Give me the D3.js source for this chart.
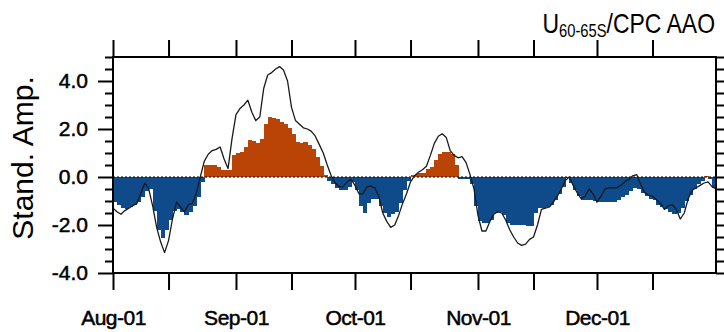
<!DOCTYPE html>
<html>
<head>
<meta charset="utf-8">
<script src="https://cdn.jsdelivr.net/npm/d3@7"></script>
<style>
  body { margin: 0; background: #fff; }
  svg { display: block; font-family: "Liberation Sans", Arial, Helvetica, sans-serif; }
</style>
</head>
<body>
<div class="chart"></div>
<script>
// size of the page
let svg_width = 724;
let svg_height = 332;

// plot frame
let left = 113, right = 716, top_y = 57, bottom = 273;

// daily values, starting on Aug-01
let start_day = new Date(Date.UTC(2000, 7, 1));
let end_day = new Date(Date.UTC(2000, 11, 31));

// shaded bars (CPC AAO)
let aao_values = [
  -1.05, -1.15, -1.3, -1.35, -1.25, -1.15, -1.05, -0.85, -0.6, -0.5,
  -1.4, -2.2, -2.55, -2.2, -1.8, -1.4, -1.35, -1.45, -1.6, -1.45,
  -1.2, -0.85, -0.2, 0.5, 0.5, 0.5, 0.4, 0.3, 0.3, 0.3,
  0.9, 1.0, 1.05, 1.25, 1.55, 1.5, 1.4, 1.6, 2.2, 2.5,
  2.45, 2.4, 2.3, 2.2, 2.05, 1.8, 1.45, 1.4, 1.45, 1.35,
  1.15, 0.85, 0.45, 0.1, -0.15, -0.3, -0.45, -0.55, -0.55, -0.4,
  -0.2, -0.55, -1.2, -1.5, -1.1, -0.9, -0.9, -1.2, -1.5, -1.65,
  -1.55, -1.45, -1.1, -0.55, -0.15, 0.1, 0.12, 0.18, 0.15, 0.35,
  0.4, 0.7, 0.95, 1.05, 1.05, 0.95, 0.5, -0.1, -0.1, -0.1,
  -0.3, -1.2, -1.85, -1.9, -1.9, -1.8, -1.5, -1.45, -1.6, -1.9,
  -2.0, -2.0, -2.0, -2.0, -2.05, -2.05, -1.5, -1.3, -1.3, -1.25,
  -1.15, -0.95, -0.7, -0.4, -0.05, -0.25, -0.55, -0.8, -0.95, -0.95,
  -0.95, -1.0, -1.05, -1.05, -1.05, -1.05, -1.05, -0.95, -0.85, -0.75,
  -0.6, -0.45, -0.5, -0.65, -0.8, -0.9, -0.95, -1.15, -1.25, -1.35,
  -1.45, -1.55, -1.5, -1.3, -1.0, -0.75, -0.5, -0.3, -0.15, 0.05,
  -0.1, -0.45
];

// black curve (U 60-65S)
let u_values = [
  -1.3, -1.45, -1.55, -1.4, -1.3, -1.2, -1.1, -0.7, -0.25, -0.5,
  -1.2, -2.1, -2.7, -3.15, -2.65, -1.75, -1.05, -1.25, -1.45, -1.15,
  -1.1, -0.7, 0.0, 0.65, 0.95, 1.1, 1.15, 1.25, 0.75, 0.35,
  1.6, 2.6, 2.85, 3.0, 3.2, 2.7, 2.35, 2.5, 3.7, 4.25,
  4.35, 4.5, 4.6, 4.45, 4.0, 2.9, 2.35, 2.2, 2.05, 2.0,
  1.9, 1.7, 1.35, 1.0, 0.5, 0.05, -0.25, -0.4, -0.4, -0.2,
  -0.1, -0.35, -0.7, -0.7, -0.4, -0.38, -0.45, -0.8, -1.5, -1.85,
  -2.1, -2.0, -1.6, -1.1, -0.7, -0.2, 0.05, 0.2, 0.3, 0.45,
  0.9, 1.4, 1.7, 1.8, 1.65, 1.1, 0.9, 0.8, 0.85, 0.6,
  0.1, -0.5, -1.6, -2.25, -2.25, -1.85, -1.55, -1.45, -1.5, -1.8,
  -2.2, -2.5, -2.75, -2.85, -2.8, -2.6, -2.5, -2.0, -1.35, -1.3,
  -1.25, -1.05, -0.8, -0.5, -0.15, 0.0, -0.35, -0.65, -0.9, -0.8,
  -0.5, -0.7, -1.05, -0.8, -0.5, -0.45, -0.45, -0.45, -0.35, -0.2,
  -0.1, 0.05, 0.1, -0.3, -0.65, -0.75, -0.8, -0.95, -1.1, -1.35,
  -1.2, -1.15, -1.35, -1.75, -1.5, -0.9, -0.55, -0.45, -0.35, -0.25,
  -0.2, -0.4, -0.5
];

// axis ticks
let y_major = [-4, -2, 0, 2, 4];
let y_minor = d3.range(-4, 5.01, 0.5).filter(v => y_major.indexOf(v) < 0);
let x_labelled = [
  Date.UTC(2000, 7, 1), Date.UTC(2000, 8, 1), Date.UTC(2000, 9, 1),
  Date.UTC(2000, 10, 1), Date.UTC(2000, 11, 1)
].map(t => new Date(t));
let x_mid = [
  Date.UTC(2000, 7, 15), Date.UTC(2000, 8, 15), Date.UTC(2000, 9, 15),
  Date.UTC(2000, 10, 15), Date.UTC(2000, 11, 15)
].map(t => new Date(t));

let title_main = "U";
let title_sub = "60-65S";
let title_rest = "/CPC AAO";
let y_title = "Stand. Amp.";

let pos_color = "#BA4306";
let neg_color = "#0F4A8A";

// scales
let x_scale = d3.scaleUtc()
                .domain([start_day, end_day])
                .range([left, right]);

let y_scale = d3.scaleLinear()
                .domain([-4, 5])
                .range([bottom, top_y]);

function dayAt(i) {
    return d3.utcDay.offset(start_day, i);
}

let svg = d3.select('.chart')
            .append('svg')
            .attr('width', svg_width)
            .attr('height', svg_height);

svg.append('clipPath')
   .attr('id', 'plot-clip')
   .append('rect')
   .attr('x', left).attr('y', top_y)
   .attr('width', right - left).attr('height', bottom - top_y);

let plot = svg.append('g').attr('clip-path', 'url(#plot-clip)');

// bars
plot.selectAll('rect.bar')
    .data(aao_values)
    .enter()
    .append('rect')
    .attr('class', 'bar')
    .attr('x', (d, i) => x_scale(dayAt(i)))
    .attr('width', (d, i) => x_scale(dayAt(i + 1)) - x_scale(dayAt(i)) + 0.6)
    .attr('y', d => Math.min(y_scale(d), y_scale(0)))
    .attr('height', d => Math.abs(y_scale(d) - y_scale(0)))
    .attr('shape-rendering', 'crispEdges')
    .attr('fill', d => d >= 0 ? pos_color : neg_color);

// zero reference line
plot.append('line')
    .attr('x1', left).attr('x2', right)
    .attr('y1', y_scale(0)).attr('y2', y_scale(0))
    .attr('stroke', '#000')
    .attr('stroke-width', 1)
    .attr('stroke-dasharray', '2,2');

// curve
let line = d3.line()
             .x((d, i) => x_scale(dayAt(i)))
             .y(d => y_scale(d));

plot.append('path')
    .datum(u_values)
    .attr('d', line)
    .attr('fill', 'none')
    .attr('stroke', '#1a1a1a')
    .attr('stroke-width', 1.3)
    .attr('stroke-linejoin', 'round');

// axes
function styleAxis(g) {
    g.select('.domain').remove();
    g.selectAll('.tick line').attr('stroke', '#000').attr('stroke-width', 2);
    g.selectAll('.tick text')
     .attr('fill', '#000')
     .attr('stroke', '#000')
     .attr('stroke-width', 0.5)
     .style('font-family', '"Liberation Sans", Arial, sans-serif')
     .style('font-size', '21px');
}

let fmt_month = d3.utcFormat('%b-%d');

svg.append('g')
   .attr('transform', `translate(0,${bottom})`)
   .call(d3.axisBottom(x_scale)
           .tickValues(x_labelled.concat(x_mid))
           .tickSize(17)
           .tickPadding(20)
           .tickFormat(d => d.getUTCDate() == 1 ? fmt_month(d) : ''))
   .call(styleAxis)
   .selectAll('.tick text')
   .style('letter-spacing', '-0.5px');

svg.append('g')
   .attr('transform', `translate(0,${top_y})`)
   .call(d3.axisTop(x_scale)
           .tickValues(x_labelled.concat(x_mid))
           .tickSize(17)
           .tickFormat(''))
   .call(styleAxis);

svg.append('g')
   .attr('transform', `translate(${left},0)`)
   .call(d3.axisLeft(y_scale)
           .tickValues(y_major)
           .tickSize(15)
           .tickPadding(10)
           .tickFormat(d => d.toFixed(1)))
   .call(styleAxis);

svg.append('g')
   .attr('transform', `translate(${left},0)`)
   .call(d3.axisLeft(y_scale).tickValues(y_minor).tickSize(8).tickFormat(''))
   .call(styleAxis);

svg.append('g')
   .attr('transform', `translate(${right},0)`)
   .call(d3.axisRight(y_scale).tickValues(y_major).tickSize(15).tickFormat(''))
   .call(styleAxis);

svg.append('g')
   .attr('transform', `translate(${right},0)`)
   .call(d3.axisRight(y_scale).tickValues(y_minor).tickSize(8).tickFormat(''))
   .call(styleAxis);

// frame
svg.append('rect')
   .attr('x', left).attr('y', top_y)
   .attr('width', right - left).attr('height', bottom - top_y)
   .attr('fill', 'none')
   .attr('stroke', '#000')
   .attr('stroke-width', 2);

// y title
svg.append('text')
   .attr('transform', `translate(33,${(top_y + bottom) / 2 - 7}) rotate(-90)`)
   .attr('text-anchor', 'middle')
   .style('font-size', '30px')
   .text(y_title);

// title with subscript, narrow like the original
let title = svg.append('text')
               .attr('transform', 'translate(715,33) scale(0.82,1)')
               .attr('text-anchor', 'end')
               .style('font-size', '28px');
title.append('tspan').text(title_main);
title.append('tspan').attr('dy', 4).style('font-size', '18px').text(title_sub);
title.append('tspan').attr('dy', -4).text(title_rest);
</script>
</body>
</html>
